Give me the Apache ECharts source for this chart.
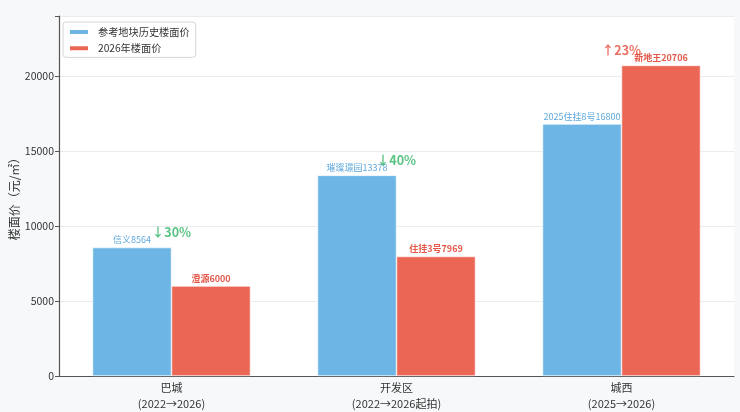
<!DOCTYPE html>
<html><head><meta charset="utf-8">
<script src="https://cdn.jsdelivr.net/npm/echarts@6/dist/echarts.min.js"></script>
<style>html,body{margin:0;padding:0;background:#f7f8fa}#c{width:740px;height:412px}</style>
</head><body><div id="c"></div>
<script>
const categories = ['巴城\n(2022→2026)', '开发区\n(2022→2026起拍)', '城西\n(2025→2026)'];
const histValues = [8564, 13378, 16800];
const histNames = ['信义', '璀璨璟园', '2025住挂8号'];
const newValues = [6000, 7969, 20706];
const newNames = ['澄源', '住挂3号', '新地王'];
const changeLabels = ['↓30%', '↓40%', '↑23%'];
const yTicks = [0, 5000, 10000, 15000, 20000];
const yAxisTitle = '楼面价（元/㎡）';

const FONT = '"Noto Sans CJK SC","Noto Sans",sans-serif';
const blue = '#6db5e4', red = '#ec6656', green = '#2eb463';

const annot = categories.map((c, i) => ({
  value: Math.max(histValues[i], newValues[i]) + 1000,
  label: { formatter: changeLabels[i], color: newValues[i] >= histValues[i] ? '#e74c3c' : green }
}));

const chart = echarts.init(document.getElementById('c'));
chart.setOption({
  backgroundColor: '#f7f8fa',
  animation: false,
  textStyle: { fontFamily: FONT },
  grid: { left: 59, right: 6, top: 16, bottom: 36, show: true, backgroundColor: '#ffffff', borderWidth: 0,
    containLabel: false, outerBoundsMode: 'none' },
  graphic: [{
    type: 'text', x: 14, y: 196, rotation: Math.PI / 2,
    style: { text: yAxisTitle, fontSize: 12, fill: '#333', fontFamily: FONT, align: 'center', verticalAlign: 'middle' }
  }],
  legend: {
    left: 63, top: 22, orient: 'vertical', itemWidth: 20, itemHeight: 6, itemGap: 6,
    backgroundColor: '#ffffff', borderColor: '#d6d6d6', borderWidth: 1, borderRadius: 3,
    padding: [5, 6, 4, 5],
    textStyle: { fontSize: 10.2, color: '#333', fontFamily: FONT, padding: [0, 0, 0, 4] },
    data: [{ name: '参考地块历史楼面价', icon: 'rect' }, { name: '2026年楼面价', icon: 'rect' }]
  },
  xAxis: {
    type: 'category', data: categories, boundaryGap: true,
    axisLine: { lineStyle: { color: '#555', width: 1.2 } },
    axisTick: { alignWithLabel: true, length: 4, lineStyle: { color: '#555' } },
    axisLabel: { fontSize: 11, color: '#333', lineHeight: 16, margin: 4, fontFamily: FONT }
  },
  yAxis: {
    type: 'value', min: 0, max: 24000, interval: 5000,
    axisLine: { show: true, lineStyle: { color: '#555', width: 1.2 } },
    axisTick: { show: true, length: 4, lineStyle: { color: '#555' } },
    axisLabel: { fontSize: 10.5, color: '#333', margin: 5,
      formatter: v => yTicks.includes(v) ? String(v) : '' },
    splitLine: { lineStyle: { color: '#ebebeb', width: 1 } }
  },
  series: [
    {
      name: '参考地块历史楼面价', type: 'bar', barWidth: 79, barGap: '0%',
      itemStyle: { color: blue, borderColor: '#ffffff', borderWidth: 0.6 },
      data: histValues,
      label: { show: true, position: 'top', distance: 3, fontSize: 9, color: '#5fa8dc', fontFamily: FONT,
        formatter: p => histNames[p.dataIndex] + histValues[p.dataIndex] }
    },
    {
      name: '2026年楼面价', type: 'bar', barWidth: 79, barGap: '0%',
      itemStyle: { color: red, borderColor: '#ffffff', borderWidth: 0.6 },
      data: newValues,
      label: { show: true, position: 'top', distance: 3, fontSize: 9, fontWeight: 'bold', color: '#e5584a', fontFamily: FONT,
        formatter: p => newNames[p.dataIndex] + newValues[p.dataIndex] }
    },
    {
      type: 'scatter', symbolSize: 0, silent: true, data: annot, z: 10,
      label: { show: true, position: 'inside', fontSize: 12.5, fontWeight: 'bold', fontFamily: FONT }
    }
  ]
});
</script></body></html>
